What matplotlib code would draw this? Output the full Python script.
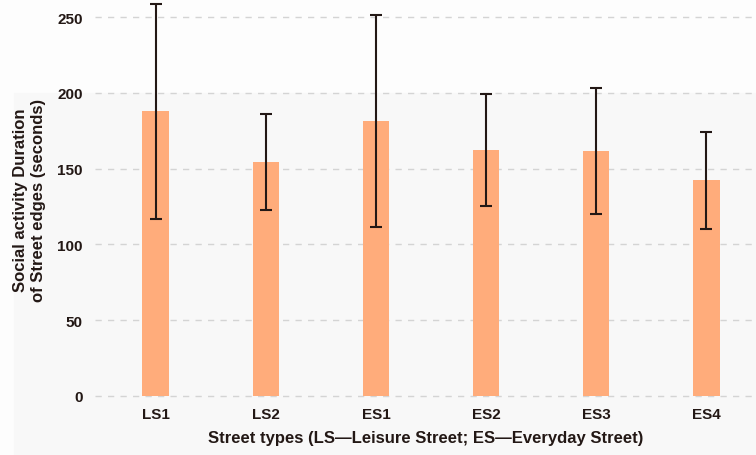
import matplotlib.pyplot as plt
from matplotlib.patches import Rectangle

plt.rcParams['font.family'] = ['Liberation Sans', 'DejaVu Sans']

street_types = ["LS1", "LS2", "ES1", "ES2", "ES3", "ES4"]
durations = [188, 154.5, 181.5, 162.5, 161.5, 142.5]
std_dev = [71, 31.5, 70, 37, 41.5, 32]

text_color = "#231815"
bar_color = "#ffac7b"

fig = plt.figure(figsize=(7.56, 4.56), dpi=100, facecolor="#fdfdfd")
# light grey panel behind the lower part of the plot
fig.patches.append(Rectangle((14 / 756, 0), 1 - 14 / 756, 1 - 94 / 456,
                             transform=fig.transFigure, color="#f8f8f8", zorder=-10))

ax = fig.add_axes([95 / 756, 56 / 456, 1 - 95 / 756, 400 / 456])
ax.set_facecolor("none")

x = range(len(street_types))
ax.bar(x, durations, width=0.24, color=bar_color, zorder=2)
ax.errorbar(x, durations, yerr=std_dev, fmt="none", ecolor=text_color,
            elinewidth=1.5, capsize=4.5, capthick=1.5, zorder=3)

ax.set_xlim(-0.55, 5.45)
ax.set_ylim(-2, 262)
ax.set_yticks([0, 50, 100, 150, 200, 250])
ax.set_xticks(list(x))
ax.set_xticklabels(street_types)
ax.yaxis.grid(True, linestyle=(0, (4.5, 4.5)), color="#d4d4d4", linewidth=1, zorder=0)
ax.set_axisbelow(True)

for side in ["top", "right", "left", "bottom"]:
    ax.spines[side].set_visible(False)
ax.tick_params(axis="both", length=0, labelsize=11, colors=text_color)
ax.tick_params(axis="y", pad=9)
ax.tick_params(axis="x", pad=6)
for lbl in ax.get_xticklabels() + ax.get_yticklabels():
    lbl.set_fontweight("bold")

ax.set_xlabel("Street types (LS\u2014Leisure Street; ES\u2014Everyday Street)",
              fontsize=12, fontweight="bold", color=text_color, labelpad=6)
ax.set_ylabel("Social activity Duration\nof Street edges (seconds)",
              fontsize=12, fontweight="bold", color=text_color, labelpad=8)

fig.savefig("out.png", dpi=100, facecolor=fig.get_facecolor())
